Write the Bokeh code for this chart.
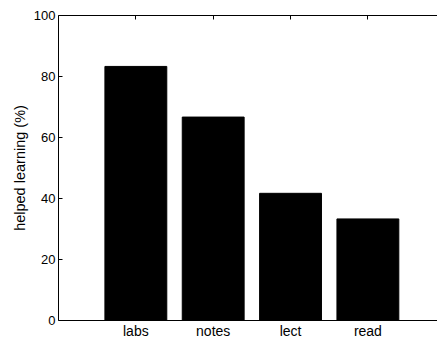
from bokeh.plotting import figure
from bokeh.models import LinearAxis, FixedTicker, Range1d
from bokeh.embed import file_html
from bokeh.resources import INLINE

categories = ["labs", "notes", "lect", "read"]
positions = [1, 2, 3, 4]
values = [83.3, 66.7, 41.7, 33.3]
y_ticks = [0, 20, 40, 60, 80, 100]

FONT = "Liberation Sans"

p = figure(width=437, height=341, output_backend="svg", toolbar_location=None,
           x_range=Range1d(0, 4.9), y_range=Range1d(0, 100),
           x_axis_location=None, y_axis_location=None,
           min_border_left=58, min_border_right=0, min_border_top=15, min_border_bottom=0)
p.outline_line_color = None
p.grid.visible = False
p.background_fill_color = "white"
p.border_fill_color = "white"

p.vbar(x=positions, top=values, bottom=0, width=0.8, fill_color="black", line_color="black")

def style(ax, size):
    ax.axis_line_color = "black"
    ax.axis_line_width = 1
    ax.major_tick_in = 4
    ax.major_tick_out = 0
    ax.minor_tick_line_color = None
    ax.major_tick_line_color = "black"
    ax.major_label_text_font = FONT
    ax.major_label_text_font_size = size
    ax.major_label_text_color = "black"

yax = LinearAxis(ticker=FixedTicker(ticks=y_ticks))
style(yax, "13px")
yax.major_label_standoff = 3
yax.axis_label = "helped learning (%)"
yax.axis_label_text_font = FONT
yax.axis_label_text_font_size = "14.5px"
yax.axis_label_text_font_style = "normal"
yax.axis_label_text_color = "black"
yax.axis_label_standoff = 3
p.add_layout(yax, "left")

xax = LinearAxis(ticker=FixedTicker(ticks=positions),
                 major_label_overrides={pos: c for pos, c in zip(positions, categories)})
style(xax, "14px")
xax.major_label_standoff = 2
xax.axis_label = None
xax.axis_label_standoff = 0
p.add_layout(xax, "below")

top = LinearAxis(ticker=FixedTicker(ticks=positions),
                 major_label_overrides={pos: "" for pos in positions})
style(top, "13px")
top.major_label_standoff = 0
top.axis_label = None
top.axis_label_standoff = 0
p.add_layout(top, "above")

open("out.html", "w").write(file_html(p, INLINE))
